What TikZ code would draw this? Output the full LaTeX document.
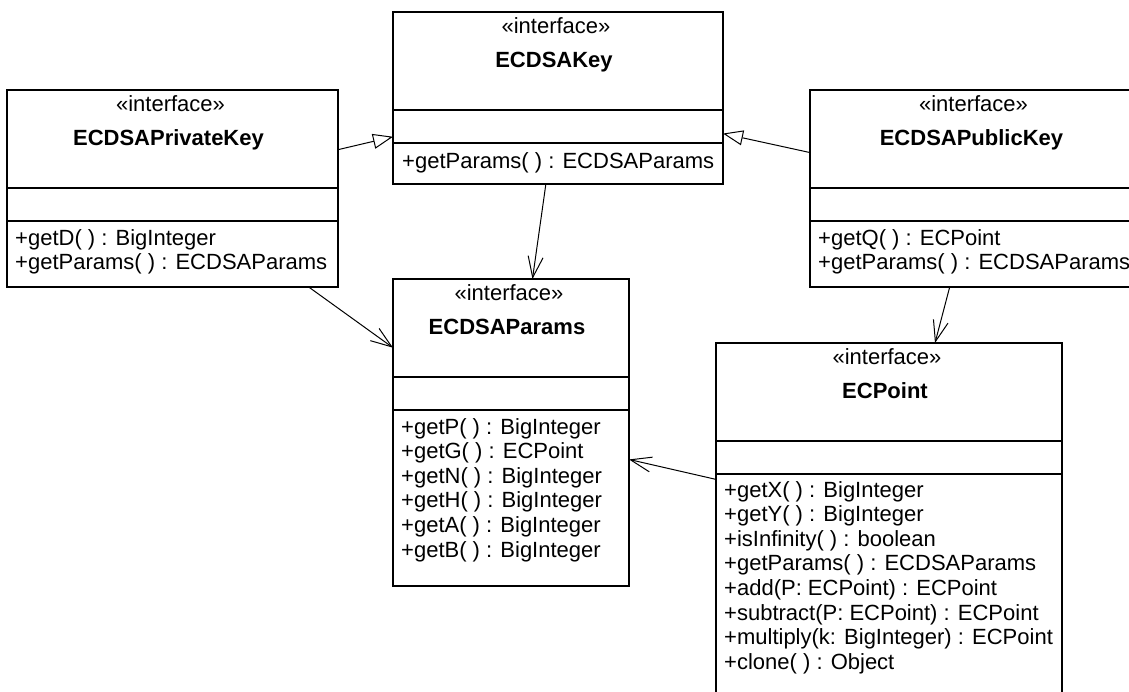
\documentclass[tikz,border=0pt]{standalone}
\usepackage{fontspec}
\setmainfont{Liberation Sans}
\usetikzlibrary{arrows.meta}

\tikzset{
  classbox/.style={draw, line width=1.2pt, minimum width=#1, inner sep=0pt, outer sep=0pt},
  stereo/.style={anchor=base, inner sep=0pt, font=\fontsize{22}{24.6}\selectfont},
  cname/.style={anchor=base, inner sep=0pt, font=\fontsize{22}{24.6}\selectfont\bfseries},
  member/.style={anchor=base west, align=left, inner sep=0pt, font=\fontsize{22}{24.6}\selectfont},
  generalize/.style={line width=1pt, -{Triangle[open, length=20pt, width=15pt, fill=white]}},
  uses/.style={line width=1pt, -{Straight Barb[length=21pt, width=15pt]}}
}

\begin{document}
\begin{tikzpicture}[x=1pt, y=-1pt]
  \fill[white] (0,0) rectangle (1129,691);
  \useasboundingbox (0,0) rectangle (1129,691);
  \clip (0,0) rectangle (1129,691);

  % class boxes
  \node [classbox=331pt, minimum height=197pt] (privkey) at (172.5,188.5) {};
  \node [classbox=330pt, minimum height=172pt] (key) at (558,98) {};
  \node [classbox=331pt, minimum height=197pt] (pubkey) at (975.5,188.5) {};
  \node [classbox=236pt, minimum height=307pt] (params) at (511,432.5) {};
  \node [classbox=346pt, minimum height=352pt] (point) at (889,519) {};

  % compartment lines, stereotype and name
  \foreach \c/\t in {privkey/ECDSAPrivateKey, key/ECDSAKey, pubkey/ECDSAPublicKey,
                     params/ECDSAParams, point/ECPoint} {
    \draw [line width=1.2pt] ([yshift=-98pt]\c.north west) -- ([yshift=-98pt]\c.north east);
    \draw [line width=1.2pt] ([yshift=-131pt]\c.north west) -- ([yshift=-131pt]\c.north east);
    \node [stereo] (\c-st) at ([shift={(-2,21)}]\c.north) {«interface»};
    \node [cname] (\c-nm) at ([shift={(-4,55.5)}]\c.north) {\t};
  }

  % operations (base sits on the last line)
  \node [member] (privkey-ops) at ([shift={(8,179.6)}]privkey.north west)
    {+getD( ) : BigInteger\\+getParams( ) : ECDSAParams};
  \node [member] (key-ops) at ([shift={(9,156)}]key.north west)
    {+getParams( ) : ECDSAParams};
  \node [member] (pubkey-ops) at ([shift={(8,179.6)}]pubkey.north west)
    {+getQ( ) : ECPoint\\+getParams( ) : ECDSAParams};
  \node [member] (params-ops) at ([shift={(8,278)}]params.north west)
    {+getP( ) : BigInteger\\+getG( ) : ECPoint\\+getN( ) : BigInteger\\
     +getH( ) : BigInteger\\+getA( ) : BigInteger\\+getB( ) : BigInteger};
  \node [member] (point-ops) at ([shift={(8,326.2)}]point.north west)
    {+getX( ) : BigInteger\\+getY( ) : BigInteger\\+isInfinity( ) : boolean\\
     +getParams( ) : ECDSAParams\\+add(P: ECPoint) : ECPoint\\
     +subtract(P: ECPoint) : ECPoint\\+multiply(k: BigInteger) : ECPoint\\
     +clone( ) : Object};

  % relations
  \draw [generalize] (privkey) -- (key);
  \draw [generalize] (pubkey) -- (key);
  \draw [uses] (key) -- (params);
  \draw [uses] (privkey) -- (params);
  \draw [uses] (pubkey) -- (point);
  \draw [uses] (point) -- (params);
\end{tikzpicture}
\end{document}
